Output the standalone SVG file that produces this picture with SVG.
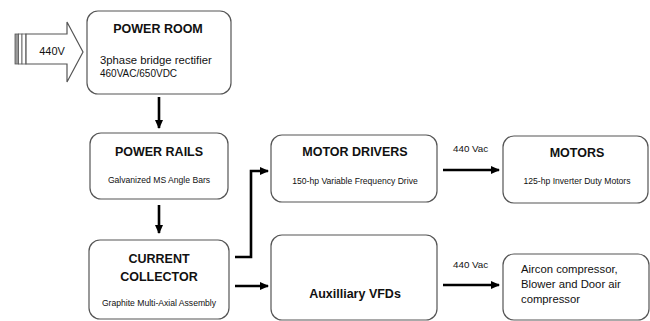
<svg xmlns="http://www.w3.org/2000/svg" width="650" height="321" viewBox="0 0 650 321">
<defs>
<style>
.box{fill:#fff;stroke:#555;stroke-width:1.2}
.t{font-family:"Liberation Sans",Arial,sans-serif;fill:#111}
.h{font-size:12.5px;font-weight:bold;text-anchor:middle}
.s{font-size:8.6px;text-anchor:middle}
.c{fill:none;stroke:#000;stroke-width:2.6}
</style>
<marker id="ah" markerWidth="10" markerHeight="10" refX="8" refY="5" orient="auto" markerUnits="userSpaceOnUse">
<path d="M0,1 L9,5 L0,9 Z" fill="#000"/>
</marker>
</defs>
<rect width="650" height="321" fill="#fff"/>

<g id="input">
<rect x="15" y="34" width="3.5" height="30" fill="#999" stroke="#555" stroke-width="0.8"/>
<rect x="18.5" y="34" width="3.5" height="30" fill="#fff" stroke="#555" stroke-width="0.8"/>
<rect x="22" y="34" width="4" height="30" fill="#fff" stroke="#555" stroke-width="0.8"/>
<path d="M26,34 L67,34 L67,22 L83,52 L67,82 L67,64 L26,64 Z" class="box"/>
<text x="52" y="55" class="t" font-size="11" text-anchor="middle">440V</text>
</g>

<g id="power-room">
<rect x="87" y="11" width="144" height="83" rx="11" class="box"/>
<text x="158" y="33" class="t h">POWER ROOM</text>
<text x="100" y="64" class="t" font-size="11.3">3phase bridge rectifier</text>
<text x="100" y="77" class="t" font-size="10">460VAC/650VDC</text>
</g>

<g id="power-rails">
<rect x="90" y="133" width="138" height="66" rx="11" class="box"/>
<text x="159" y="156" class="t h">POWER RAILS</text>
<text x="159" y="183" class="t s">Galvanized MS Angle Bars</text>
</g>

<g id="current-collector">
<rect x="89" y="240" width="140" height="79" rx="11" class="box"/>
<text x="159" y="263" class="t h">CURRENT</text>
<text x="159" y="281" class="t h">COLLECTOR</text>
<text x="159" y="306" class="t s">Graphite Multi-Axial Assembly</text>
</g>

<g id="motor-drivers">
<rect x="271" y="135" width="166" height="67" rx="11" class="box"/>
<text x="355" y="156" class="t h">MOTOR DRIVERS</text>
<text x="355" y="184" class="t s">150-hp Variable Frequency Drive</text>
</g>

<g id="auxiliary-vfds">
<rect x="271" y="235" width="166" height="85" rx="11" class="box"/>
<text x="355" y="298" class="t h" font-size="12.8">Auxilliary VFDs</text>
</g>

<g id="motors">
<rect x="503" y="136" width="145" height="67" rx="11" class="box"/>
<text x="577" y="157" class="t h">MOTORS</text>
<text x="577" y="184" class="t s">125-hp Inverter Duty Motors</text>
</g>

<g id="compressors">
<rect x="503" y="254" width="146" height="66" rx="11" class="box"/>
<text x="521" y="273" class="t" font-size="11.3">Aircon compressor,</text>
<text x="521" y="288" class="t" font-size="11.3">Blower and Door air</text>
<text x="521" y="303" class="t" font-size="11.3">compressor</text>
</g>

<g id="connectors">
<line x1="159" y1="97" x2="159" y2="128" class="c" marker-end="url(#ah)"/>
<line x1="159" y1="205" x2="159" y2="233" class="c" marker-end="url(#ah)"/>
<polyline points="235,257 251,257 251,171 268,171" class="c" marker-end="url(#ah)"/>
<line x1="235" y1="286" x2="268" y2="286" class="c" marker-end="url(#ah)"/>
<line x1="443" y1="170" x2="499" y2="170" class="c" marker-end="url(#ah)"/>
<line x1="443" y1="285" x2="499" y2="285" class="c" marker-end="url(#ah)"/>
<text x="453" y="152" class="t" font-size="9.8">440 Vac</text>
<text x="453" y="268" class="t" font-size="9.8">440 Vac</text>
</g>
</svg>
